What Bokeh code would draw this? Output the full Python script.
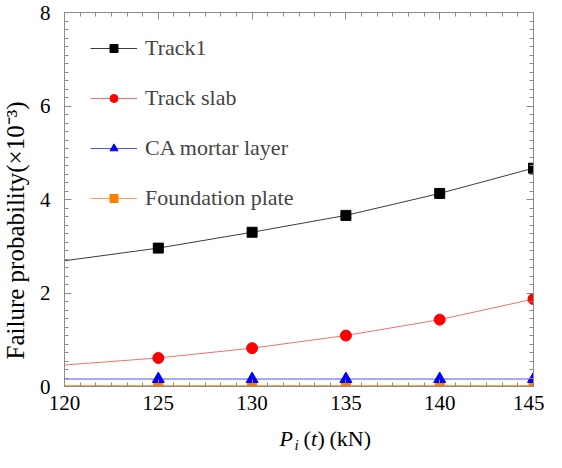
import math
from bokeh.plotting import figure
from bokeh.layouts import row, column
from bokeh.models import (LinearAxis, SingleIntervalTicker, Range1d, Legend,
                          LegendItem, Label)
from bokeh.embed import file_html
from bokeh.resources import INLINE

# ---- data ----
load_kn = [125, 130, 135, 140, 145]
fit_load_kn = [120, 125, 130, 135, 140, 145]
track1 = [2.96, 3.30, 3.66, 4.13, 4.67]
track1_fit = [2.69, 2.96, 3.30, 3.66, 4.13, 4.67]
track_slab = [0.61, 0.82, 1.09, 1.43, 1.87]
track_slab_fit = [0.46, 0.61, 0.82, 1.09, 1.43, 1.87]
ca_mortar = [0.16, 0.16, 0.16, 0.16, 0.16]
ca_mortar_fit = [0.16, 0.16, 0.16, 0.16, 0.16, 0.16]
foundation = [0.02, 0.02, 0.02, 0.02, 0.02]
foundation_fit = [0.02, 0.02, 0.02, 0.02, 0.02, 0.02]
series_names = ["Track1", "Track slab", "CA mortar layer", "Foundation plate"]
y_title = "Failure probability(\u00d710\u207b\u00b3)"

FONT = "Liberation Serif"
GRAY = "#8a8a8a"


def blank(w, h):
    f = figure(width=w, height=h, output_backend="svg", toolbar_location=None,
               x_axis_type=None, y_axis_type=None, min_border=0,
               x_range=Range1d(0, 1), y_range=Range1d(0, 1))
    f.outline_line_color = None
    f.grid.visible = False
    return f


p = figure(width=508, height=420, output_backend="svg", toolbar_location=None,
           x_range=Range1d(120, 145), y_range=Range1d(0, 8),
           min_border_left=28, min_border_right=11, min_border_top=12,
           min_border_bottom=34)
p.grid.visible = False
p.outline_line_color = GRAY

bottom = p.xaxis[0]
left = p.yaxis[0]
bottom.ticker = SingleIntervalTicker(interval=5, num_minor_ticks=6)
left.ticker = SingleIntervalTicker(interval=2, num_minor_ticks=11)
left.major_label_standoff = 14
bottom.major_label_standoff = 9

top = LinearAxis(ticker=SingleIntervalTicker(interval=5, num_minor_ticks=6),
                 major_label_text_color=None, major_label_text_font_size="0px",
                 major_label_standoff=0)
right = LinearAxis(ticker=SingleIntervalTicker(interval=2, num_minor_ticks=11),
                   major_label_text_color=None, major_label_text_font_size="0px",
                   major_label_standoff=0)
p.add_layout(top, "above")
p.add_layout(right, "right")

for ax in [bottom, left, top, right]:
    ax.axis_line_color = GRAY
    ax.major_tick_line_color = GRAY
    ax.minor_tick_line_color = GRAY
    ax.major_tick_in = 7
    ax.major_tick_out = 0
    ax.minor_tick_in = 4
    ax.minor_tick_out = 0
for ax in [bottom, left]:
    ax.major_label_text_font = FONT
    ax.major_label_text_font_size = "21px"
    ax.major_label_text_color = "black"

# ---- series ----
l1 = p.line(fit_load_kn, track1_fit, line_color="#3c3c3c", line_width=1)
m1 = p.scatter(load_kn, track1, marker="square", size=10, fill_color="black",
               line_color="black")
l2 = p.line(fit_load_kn, track_slab_fit, line_color="#f07070", line_width=1)
m2 = p.scatter(load_kn, track_slab, marker="circle", size=11, fill_color="#ff0000",
               line_color="#ff0000")
l4 = p.line(fit_load_kn, foundation_fit, line_color="#ffa040", line_width=1)
m4 = p.scatter(load_kn, foundation, marker="square", size=9, fill_color="#ff8000",
               line_color="#ff8000")
l3 = p.line(fit_load_kn, ca_mortar_fit, line_color="#5050ff", line_width=1)
m3 = p.scatter(load_kn, ca_mortar, marker="triangle", size=12, fill_color="#0000ff",
               line_color="#0000ff")

legend = Legend(items=[
    LegendItem(label=series_names[0], renderers=[l1, m1]),
    LegendItem(label=series_names[1], renderers=[l2, m2]),
    LegendItem(label=series_names[2], renderers=[l3, m3]),
    LegendItem(label=series_names[3], renderers=[l4, m4]),
], location=(26, 175), border_line_color=None, background_fill_alpha=0,
   padding=10, margin=0, spacing=24, glyph_width=47, glyph_height=20,
   label_height=20, label_standoff=8, label_text_font=FONT,
   label_text_font_size="22px", label_text_baseline="middle")
p.add_layout(legend)

# ---- y axis title (own strip on the left) ----
ylab = blank(36, 452)
ylab.add_layout(Label(x=15, y=222, x_units="screen", y_units="screen",
                      text=y_title, angle=math.pi / 2, text_font=FONT,
                      text_font_size="25px", text_align="center",
                      text_baseline="middle", text_color="black"))

# ---- x axis title: P_i(t) (kN) (own strip below) ----
xlab = blank(508, 32)


def lab(txt, x, y, size="22px", style="normal"):
    xlab.add_layout(Label(x=x, y=y, x_units="screen", y_units="screen", text=txt,
                          text_font=FONT, text_font_size=size,
                          text_font_style=style, text_baseline="middle",
                          text_align="left", text_color="black"))


lab("P", 215, 14, style="italic")
lab("i", 230, 8, size="15px", style="italic")
lab("(", 239, 14)
lab("t", 246.5, 14, style="italic")
lab(")", 253, 14)
lab("(kN)", 265, 14)

layout = row(ylab, column(p, xlab))
open("out.html", "w").write(file_html(layout, INLINE))
